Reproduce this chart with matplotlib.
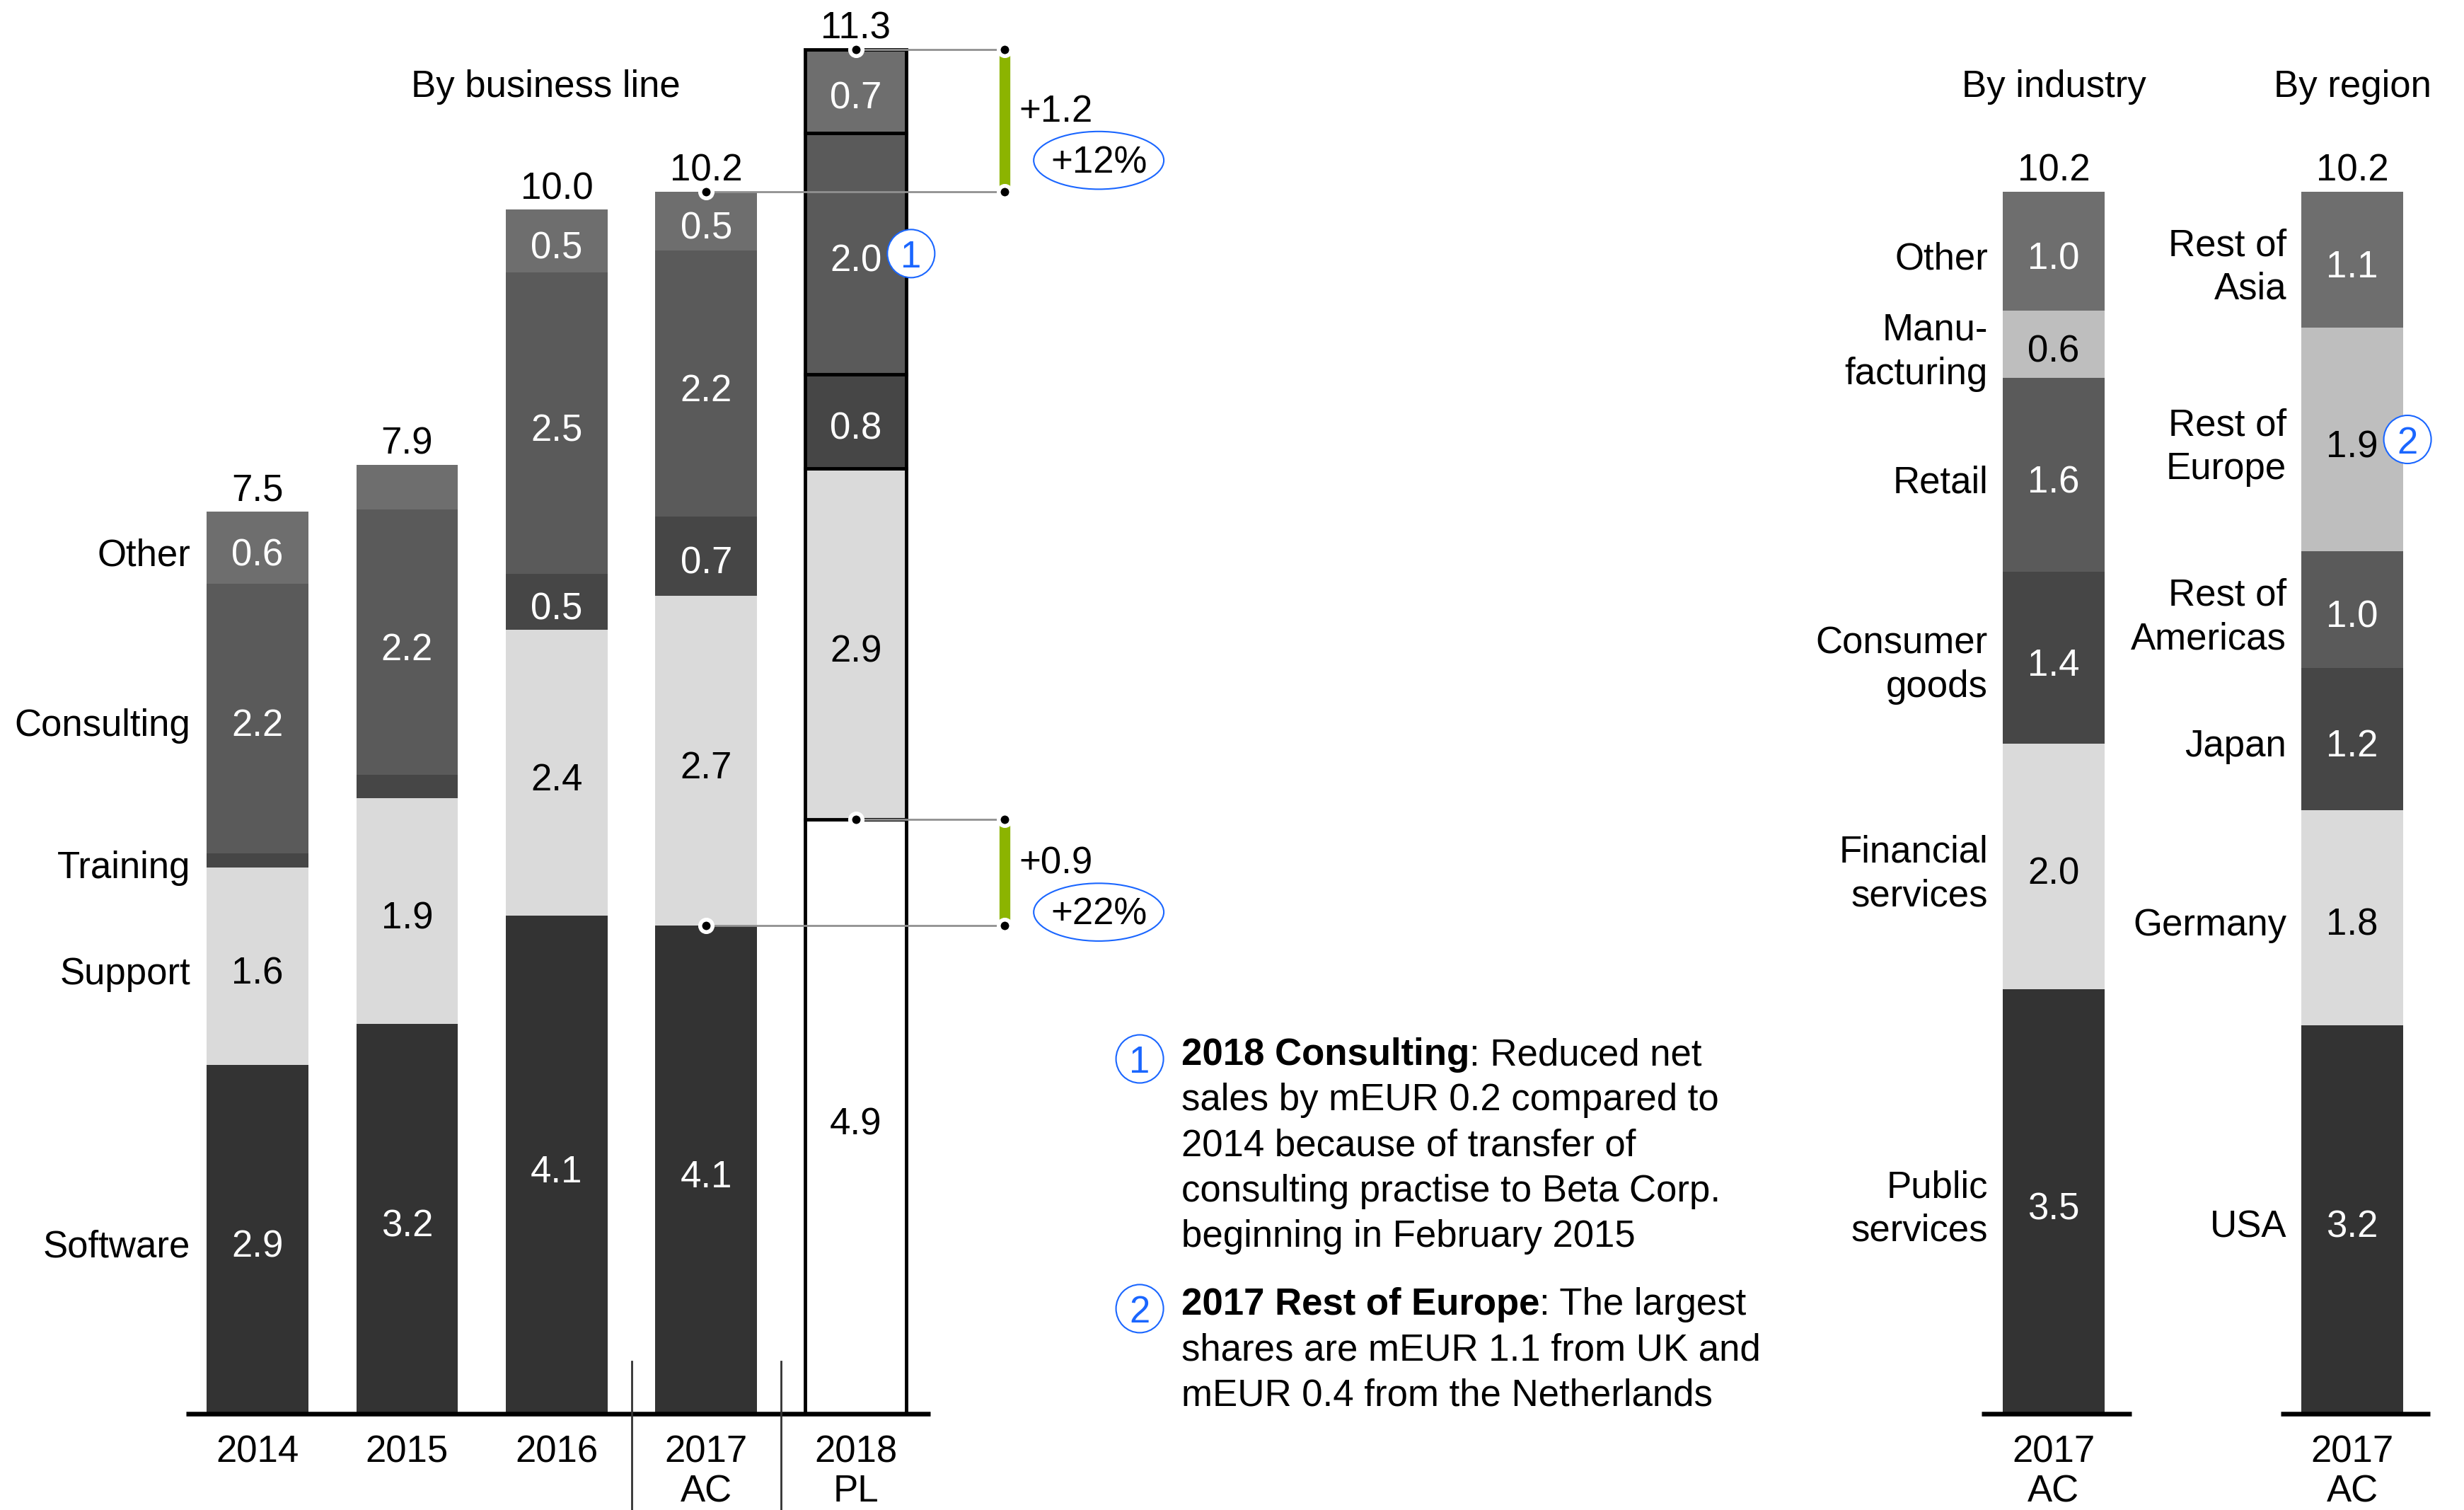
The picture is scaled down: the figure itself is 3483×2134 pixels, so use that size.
import matplotlib.pyplot as plt
from matplotlib.patches import Ellipse

plt.rcParams['font.family'] = ['Liberation Sans', 'DejaVu Sans']

# --- Data (mEUR) ---
years = ['2014', '2015', '2016', '2017\nAC', '2018\nPL']
business_lines = ['Software', 'Support', 'Training', 'Consulting', 'Other']
software = [2.9, 3.24, 4.14, 4.06, 4.94]
support = [1.64, 1.88, 2.38, 2.74, 2.92]
training = [0.12, 0.19, 0.46, 0.66, 0.78]
consulting = [2.24, 2.21, 2.51, 2.21, 2.01]
other = [0.6, 0.37, 0.52, 0.49, 0.69]
line_values = [software, support, training, consulting, other]

side_period = '2017\nAC'
industries = ['Public\nservices', 'Financial\nservices', 'Consumer\ngoods', 'Retail',
              'Manu-\nfacturing', 'Other']
industry_values = [3.53, 2.04, 1.43, 1.61, 0.56, 0.99]
regions = ['USA', 'Germany', 'Japan', 'Rest of\nAmericas', 'Rest of\nEurope', 'Rest of\nAsia']
region_values = [3.23, 1.79, 1.18, 0.97, 1.86, 1.13]

notes = [
    ('1', '2018 Consulting', ': Reduced net',
     ['sales by mEUR 0.2 compared to', '2014 because of transfer of',
      'consulting practise to Beta Corp.', 'beginning in February 2015']),
    ('2', '2017 Rest of Europe', ': The largest',
     ['shares are mEUR 1.1 from UK and', 'mEUR 0.4 from the Netherlands']),
]

# --- Style ---
FS = 38
W = 0.68
LBL_DY = -0.065   # labels sit a little below the segment centre
line_colors = ['#333333', '#dadada', '#464646', '#5a5a5a', '#6e6e6e']
side_colors = ['#333333', '#dadada', '#464646', '#5a5a5a', '#bebebe', '#6e6e6e']
DARK = {'#333333', '#464646', '#5a5a5a', '#6e6e6e'}
BLUE = '#1a66ff'
GREEN = '#8cb400'
GREY = '#909090'

fig = plt.figure(figsize=(34.83, 21.34), dpi=100)
ax = fig.add_axes([0, 0, 1, 1])
ax.set_xlim(-1.722, 14.754)
ax.set_ylim(-0.8, 11.753)
ax.set_axis_off()


def dot(x, y):
    ax.plot(x, y, 'o', ms=12.6, mfc='black', mec='white', mew=4, zorder=6)


def circled(x, y, num):
    ax.add_patch(Ellipse((x, y), 0.317, 0.40, facecolor='white', edgecolor=BLUE,
                         lw=1.5, zorder=7))
    ax.text(x, y, num, ha='center', va='center_baseline', fontsize=FS, color=BLUE, zorder=8)


def baseline(x0, x1):
    ax.plot([x0, x1], [0, 0], color='black', lw=4.7, solid_capstyle='butt', zorder=4)


def period_label(x, label):
    for k, part in enumerate(label.split('\n')):
        ax.text(x, -0.40 - k * 0.33, part, ha='center', va='baseline', fontsize=FS)


# --- By business line ---
bottoms = [0.0] * len(years)
for name, vals, col in zip(business_lines, line_values, line_colors):
    for i, v in enumerate(vals):
        plan = i == len(years) - 1
        face = 'white' if plan and name == 'Software' else col
        ax.bar(i, v, bottom=bottoms[i], width=W, color=face,
               edgecolor='black' if plan else face, linewidth=3.5 if plan else 0, zorder=2)
        mid = bottoms[i] + v / 2 + LBL_DY
        if v >= 0.4:
            ax.text(i, mid, f'{v:.1f}', ha='center', va='center', fontsize=FS,
                    color='white' if face in DARK else 'black', zorder=5)
        if i == 0:
            ax.text(-0.45, mid, name, ha='right', va='center', fontsize=FS)
        bottoms[i] += v

for i, t in enumerate(bottoms):
    ax.text(i, t + 0.09, f'{t:.1f}', ha='center', va='baseline', fontsize=FS)
    period_label(i, years[i])

ax.text(1.925, 10.95, 'By business line', ha='center', va='baseline', fontsize=FS)
baseline(-0.48, 4.5)
for xs in (2.5, 3.5):
    ax.plot([xs, xs], [0.435, -0.8], color='#333333', lw=2, zorder=4)

# 2018 consulting comment marker
cons_mid = sum(v[-1] for v in line_values[:3]) + consulting[-1] / 2
circled(4.37, cons_mid, '1')


# --- Deltas 2017 AC -> 2018 PL ---
def delta(y0, y1, xg=4.995):
    ax.plot([3, xg], [y0, y0], color=GREY, lw=2, zorder=3)
    ax.plot([4, xg], [y1, y1], color=GREY, lw=2, zorder=3)
    ax.plot([xg, xg], [y0, y1], color=GREEN, lw=11, solid_capstyle='butt', zorder=4)
    for x, y in ((3, y0), (4, y1), (xg, y0), (xg, y1)):
        dot(x, y)
    mid = (y0 + y1) / 2
    d = y1 - y0
    ax.text(5.09, mid - 0.01, f'+{d:.1f}', ha='left', va='baseline', fontsize=FS)
    ax.add_patch(Ellipse((5.625, mid - 0.33), 0.87, 0.48, facecolor='white',
                         edgecolor=BLUE, lw=1.5, zorder=3))
    ax.text(5.625, mid - 0.35, f'+{d / y0 * 100:.0f}%', ha='center', va='center',
            fontsize=FS, zorder=4)


delta(bottoms[3], bottoms[4])
delta(software[3], software[4])


# --- By industry / By region ---
def side_bar(x, names, vals, title):
    b = 0.0
    mids = []
    for name, v, col in zip(names, vals, side_colors):
        ax.bar(x, v, bottom=b, width=W, color=col, linewidth=0, zorder=2)
        ax.text(x, b + v / 2 + LBL_DY, f'{v:.1f}', ha='center', va='center', fontsize=FS,
                color='white' if col in DARK else 'black', zorder=5)
        ax.text(x - 0.44, b + v / 2 + LBL_DY, name, ha='right', va='center', fontsize=FS,
                linespacing=1.3)
        mids.append(b + v / 2)
        b += v
    ax.text(x, b + 0.09, f'{b:.1f}', ha='center', va='baseline', fontsize=FS)
    ax.text(x, 10.95, title, ha='center', va='baseline', fontsize=FS)
    period_label(x, side_period)
    baseline(x - 0.48, x + 0.52)
    return mids


side_bar(12.01, industries, industry_values, 'By industry')
region_mids = side_bar(14.007, regions, region_values, 'By region')
circled(14.376, region_mids[4], '2')

# --- Footnotes ---
note_y = [2.9, 0.824]
step = 0.378
for (num, bold, rest, more), y in zip(notes, note_y):
    circled(5.899, y + 0.05, num)
    t = ax.text(6.178, y, bold, fontweight='bold', ha='left', va='baseline', fontsize=FS)
    ax.annotate(rest, xy=(1, 0), xycoords=t, ha='left', va='bottom', fontsize=FS)
    for k, line in enumerate(more, 1):
        ax.text(6.178, y - k * step, line, ha='left', va='baseline', fontsize=FS)

fig.savefig('out.png', dpi=100)
